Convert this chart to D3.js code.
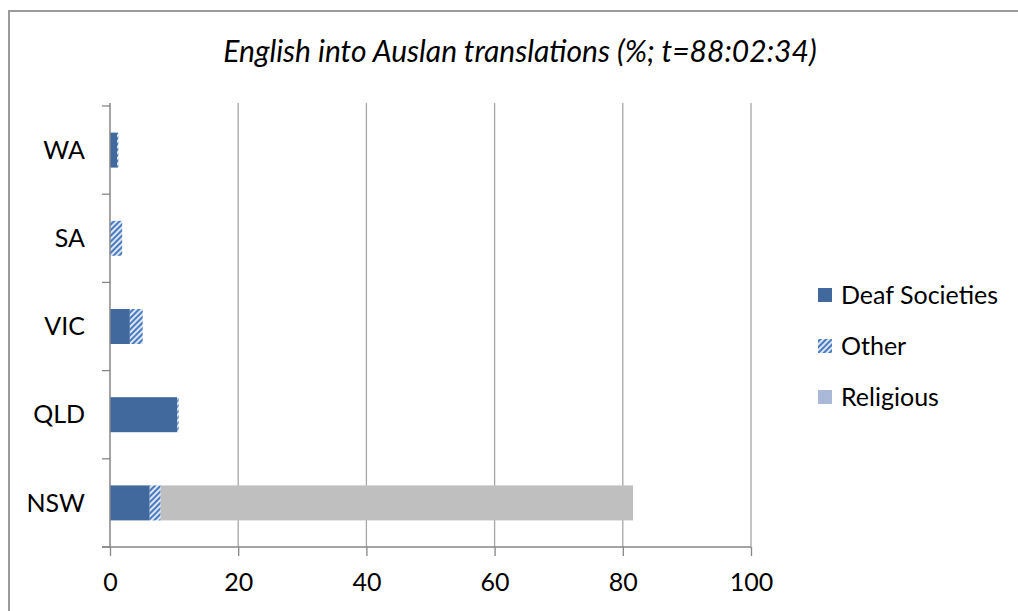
<!DOCTYPE html>
<html><head><meta charset="utf-8">
<script src="https://cdn.jsdelivr.net/npm/d3@7"></script>
<style>body{margin:0;background:#fff}svg{display:block}</style>
</head><body>
<script>
const categories = ["WA","SA","VIC","QLD","NSW"];
const seriesNames = ["Deaf Societies","Other","Religious"];
const deafSocieties = [1.1, 0, 3.1, 10.5, 6.2];
const other = [0.2, 1.9, 2.0, 0.2, 1.7];
const religious = [0, 0, 0, 0, 73.7];
const xTicks = [0,20,40,60,80,100];
const title = "English into Auslan translations (%; t=88:02:34)";

const W = 1018, H = 611;
const svg = d3.select("body").append("svg").attr("width", W).attr("height", H);
const defs = svg.append("defs");
const pat = defs.append("pattern").attr("id","hatch").attr("patternUnits","userSpaceOnUse")
  .attr("width",4).attr("height",4).attr("patternTransform","rotate(45)");
pat.append("rect").attr("width",4).attr("height",4).attr("fill","#dbe5f3");
pat.append("rect").attr("width",2).attr("height",4).attr("fill","#4a7bbf");

svg.append("rect").attr("x",9).attr("y",11).attr("width",W+20).attr("height",H+20)
  .attr("fill","#fff").attr("stroke","#9a9a9a").attr("stroke-width",2);

const font = "Lato, 'Open Sans', sans-serif";
svg.append("text").attr("x",520).attr("y",62).attr("text-anchor","middle")
  .attr("font-family",font).attr("font-style","italic").attr("font-size",30)
  .attr("fill","#000").text(title);

const x = d3.scaleLinear().domain([0,100]).range([110,751]);
const yb = d3.scaleBand().domain(categories).range([106,547]);

// gridlines
svg.append("g").selectAll("line").data(xTicks.filter(d=>d>0)).join("line")
  .attr("x1",d=>x(d)).attr("x2",d=>x(d)).attr("y1",103).attr("y2",547)
  .attr("stroke","#a6a6a6").attr("stroke-width",1.3);

// bars
const stacks = categories.map((c,i)=>{
  const a = deafSocieties[i], b = other[i], r = religious[i];
  return [
    {c, s:0, e:a, fill:"#41699d"},
    {c, s:a, e:a+b, fill:"url(#hatch)"},
    {c, s:a+b, e:a+b+r, fill:"#bfbfbf"}
  ];
}).flat().filter(d=>d.e>d.s);
svg.append("g").selectAll("rect").data(stacks).join("rect")
  .attr("x",d=>x(d.s)).attr("width",d=>x(d.e)-x(d.s))
  .attr("y",d=>yb(d.c)+yb.bandwidth()/2-17.5).attr("height",35)
  .attr("fill",d=>d.fill);

// axes
const xAxis = d3.axisBottom(x).tickValues(xTicks).tickSize(9).tickPadding(17).tickFormat(d3.format("d"));
const gx = svg.append("g").attr("transform","translate(0,547)").call(xAxis);
gx.select(".domain").remove();
gx.append("line").attr("x1",102).attr("x2",751).attr("y1",0).attr("y2",0).attr("stroke","#868686").attr("stroke-width",1.5);
gx.selectAll(".tick line").attr("stroke","#868686").attr("stroke-width",1.3);
gx.selectAll(".tick text").attr("font-family",font).attr("font-size",25).attr("fill","#000");

const gy = svg.append("g");
gy.append("line").attr("x1",110).attr("x2",110).attr("y1",103).attr("y2",547).attr("stroke","#868686").attr("stroke-width",1.5);
const bounds = categories.map(c=>yb(c)).concat([547]);
gy.selectAll("line.t").data(bounds).join("line").attr("class","t")
  .attr("x1",102).attr("x2",110).attr("y1",d=>d).attr("y2",d=>d).attr("stroke","#868686").attr("stroke-width",1.3);
gy.selectAll("text").data(categories).join("text")
  .attr("x",85).attr("y",d=>yb(d)+yb.bandwidth()/2).attr("dy","0.35em")
  .attr("text-anchor","end").attr("font-family",font).attr("font-size",25).attr("fill","#000").text(d=>d);

// legend
const legendFills = ["#41699d","url(#hatch)","#a9b9d7"];
const lg = svg.append("g").selectAll("g").data(seriesNames).join("g")
  .attr("transform",(d,i)=>`translate(818,${295+i*51})`);
lg.append("rect").attr("x",0).attr("y",-7).attr("width",14).attr("height",14).attr("fill",(d,i)=>legendFills[i]);
lg.append("text").attr("x",23).attr("y",0).attr("dy","0.35em").attr("font-family",font).attr("font-size",25).attr("fill","#000").text(d=>d);
</script>
</body></html>
